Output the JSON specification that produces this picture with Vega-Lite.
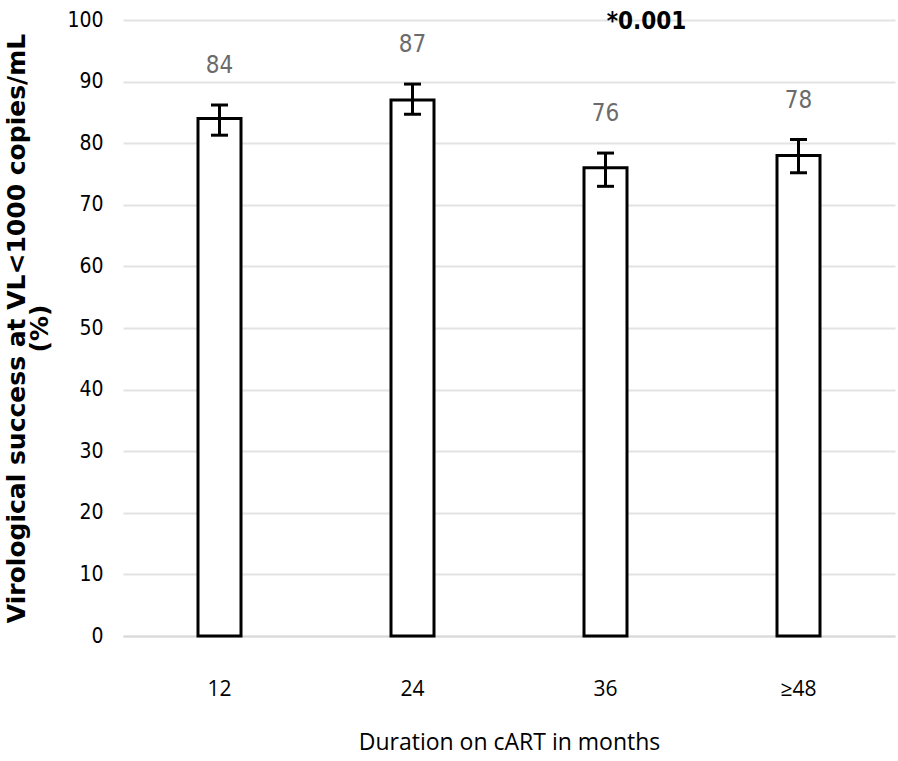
{
  "$schema": "https://vega.github.io/schema/vega-lite/v6.json",
  "width": 772,
  "height": 616,
  "autosize": {"type": "none"},
  "padding": {"left": 123, "top": 20, "right": 3, "bottom": 125},
  "background": "white",
  "config": {"view": {"stroke": null}},
  "data": {
    "values": [
      {"duration": "12", "success": 84, "lo": 81.3, "hi": 86.2},
      {"duration": "24", "success": 87, "lo": 84.7, "hi": 89.6},
      {"duration": "36", "success": 76, "lo": 73.0, "hi": 78.4},
      {"duration": "≥48", "success": 78, "lo": 75.2, "hi": 80.6}
    ]
  },
  "encoding": {
    "x": {
      "field": "duration",
      "type": "nominal",
      "sort": null,
      "axis": {
        "title": "Duration on cART in months",
        "labelAngle": 0,
        "labelFont": "Open Sans",
        "labelFontSize": 21,
        "labelColor": "#000",
        "labelPadding": 42,
        "ticks": false,
        "domain": true,
        "domainColor": "#d9d9d9",
        "domainWidth": 2,
        "titleFont": "Open Sans",
        "titleFontSize": 23,
        "titleFontWeight": "normal",
        "titleColor": "#000",
        "titlePadding": 32
      }
    }
  },
  "layer": [
    {
      "mark": {"type": "bar", "fill": "white", "stroke": "black", "strokeWidth": 3, "width": 43},
      "encoding": {
        "y": {
          "field": "success",
          "type": "quantitative",
          "scale": {"domain": [0, 100]},
          "axis": {
            "title": ["Virological success at VL<1000 copies/mL", "(%)"],
            "titleFont": "DejaVu Sans",
            "titleFontSize": 25,
            "titleFontWeight": "bold",
            "titleColor": "#000",
            "titleLineHeight": 23,
            "titlePadding": 14,
            "values": [0, 10, 20, 30, 40, 50, 60, 70, 80, 90, 100],
            "labelFont": "DejaVu Sans Condensed",
            "labelFontSize": 21,
            "labelColor": "#000",
            "labelPadding": 20,
            "ticks": false,
            "domain": false,
            "grid": true,
            "gridColor": "#e3e3e3",
            "gridWidth": 2
          }
        }
      }
    },
    {
      "mark": {"type": "rule", "stroke": "black", "strokeWidth": 3},
      "encoding": {
        "y": {"field": "lo", "type": "quantitative"},
        "y2": {"field": "hi"}
      }
    },
    {
      "mark": {"type": "tick", "color": "black", "thickness": 3, "size": 17, "opacity": 1},
      "encoding": {"y": {"field": "lo", "type": "quantitative"}}
    },
    {
      "mark": {"type": "tick", "color": "black", "thickness": 3, "size": 17, "opacity": 1},
      "encoding": {"y": {"field": "hi", "type": "quantitative"}}
    },
    {
      "mark": {"type": "text", "font": "DejaVu Sans Condensed", "fontSize": 24, "color": "#6b6b6b", "baseline": "middle", "dy": -39},
      "encoding": {
        "y": {"field": "hi", "type": "quantitative"},
        "text": {"field": "success", "type": "quantitative"}
      }
    },
    {
      "data": {"values": [{"duration": "36", "y": 100, "label": "*0.001"}]},
      "mark": {"type": "text", "font": "DejaVu Sans Condensed", "fontSize": 24, "fontWeight": "bold", "color": "#000", "baseline": "middle", "dx": 41, "dy": 2},
      "encoding": {
        "y": {"field": "y", "type": "quantitative"},
        "text": {"field": "label"}
      }
    }
  ]
}
